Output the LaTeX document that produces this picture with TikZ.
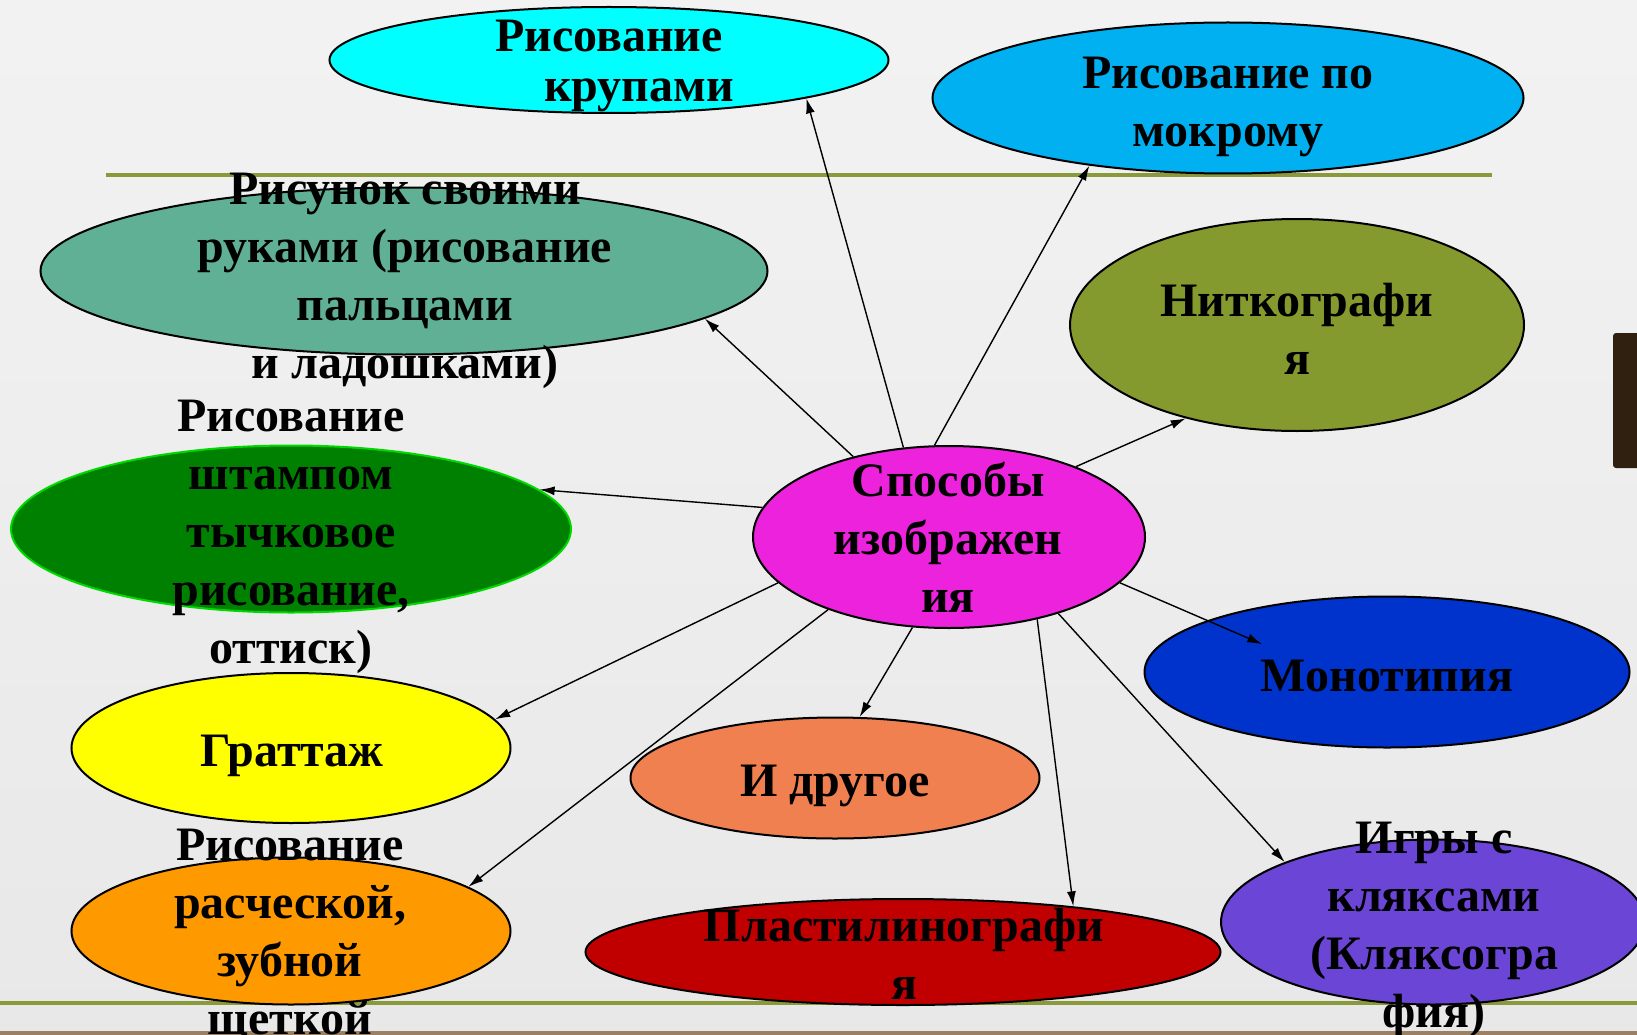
\documentclass[tikz,border=0pt]{standalone}
\usepackage{fontspec}
\setmainfont{Liberation Serif}
\usepackage{tikz}
\usetikzlibrary{shapes.geometric,arrows.meta}
\definecolor{krup}{HTML}{00FFFF}
\definecolor{mokr}{HTML}{00B0F0}
\definecolor{ruki}{HTML}{60B096}
\definecolor{nitk}{HTML}{859A2E}
\definecolor{stamp}{HTML}{008000}
\definecolor{sposob}{HTML}{EC22DC}
\definecolor{gratt}{HTML}{FFFF00}
\definecolor{mono}{HTML}{0033CC}
\definecolor{drug}{HTML}{F08050}
\definecolor{rasch}{HTML}{FF9900}
\definecolor{plast}{HTML}{C00000}
\definecolor{klyaks}{HTML}{6B46D6}
\definecolor{rule}{HTML}{8A9A3A}

\begin{document}
\begin{tikzpicture}[x=1pt, y=-1pt,
blob/.style={ellipse, draw=black, line width=2pt, inner sep=0pt},
txt/.style={align=center, inner sep=0pt, font=\bfseries\fontsize{48}{58}\selectfont},
arr/.style={-{Latex[length=15pt,width=9pt]}, line width=1.4pt}]
\useasboundingbox (0,0) rectangle (1637,1035);
\shade[top color=black!5, bottom color=black!9] (0,0) rectangle (1637,1035);
\fill[brown!45!gray] (0,1031) rectangle (1637,1035);
\draw[rule, line width=4pt] (106,175) -- (1492,175);
\draw[rule, line width=4pt] (0,1003) -- (1637,1003);
\fill[brown!25!black, rounded corners=3pt] (1613,333) rectangle (1641,468);

\node[blob, fill=krup, minimum width=559pt, minimum height=106pt] (kr) at (609,60) {};
\node[blob, fill=mokr, minimum width=591pt, minimum height=151pt] (mk) at (1228,98) {};
\node[blob, fill=ruki, minimum width=727pt, minimum height=167pt] (rs) at (404,271) {};
\node[blob, fill=nitk, minimum width=454pt, minimum height=212pt] (nk) at (1297,325) {};
\node[blob, draw=green!85!black, fill=stamp, minimum width=560pt, minimum height=167pt] (st) at (291,529) {};
\node[blob, fill=sposob, minimum width=392pt, minimum height=182pt] (c) at (949,537) {};
\node[blob, fill=gratt, minimum width=439pt, minimum height=150pt] (gr) at (291,748) {};
\node[blob, fill=mono, minimum width=485pt, minimum height=151pt] (mo) at (1387,672) {};
\node[blob, fill=drug, minimum width=409pt, minimum height=121pt] (dr) at (835,778) {};
\node[blob, fill=rasch, minimum width=439pt, minimum height=147pt] (ra) at (291,931) {};
\node[blob, fill=plast, minimum width=635pt, minimum height=106pt] (pl) at (903,952) {};
\node[blob, fill=klyaks, minimum width=424pt, minimum height=165pt] (ig) at (1433,922) {};

\draw[arr] (c.117) -- (kr.-11.5);
\draw[arr] (c.99) -- (mk.-154);
\draw[arr] (c.140) -- (rs.-9);
\draw[arr] (c.29) -- (nk.-140);
\draw[arr] (c.171) -- (st.9);
\draw[arr] (c.-165) -- (gr.8);
\draw[arr] (c.-149) -- (ra.14);
\draw[arr] (c.-112) -- (dr.68);
\draw[arr] (c.-43) -- (pl.15);
\draw[arr, shorten >=-60pt] (c.-15) -- (mo.164);
\draw[arr] (c.-35) -- (ig.158);

\node[txt, font=\bfseries\fontsize{48}{50}\selectfont] (krt) at (609,66) {Рисование\\\hspace*{60pt}крупами};
\node[txt] (mkt) at (1228,107) {Рисование по\\мокрому};
\node[txt] (rst) at (405,281) {Рисунок своими\\руками (рисование\\пальцами\\и ладошками)};
\node[txt] (nkt) at (1297,329) {Ниткографи\\я};
\node[txt] (stt) at (291,537) {Рисование\\штампом\\тычковое\\рисование,\\оттиск)};
\node[txt] (ct) at (948,537) {Способы\\изображен\\ия};
\node[txt] (grt) at (292,756) {Граттаж};
\node[txt] (mot) at (1387,676) {Монотипия};
\node[txt] (drt) at (835,786) {И другое};
\node[txt] (rat) at (290,936) {Рисование\\расческой,\\зубной\\щеткой};
\node[txt] (plt) at (904,954) {Пластилинографи\\я};
\node[txt] (igt) at (1434,930) {Игры с\\кляксами\\(Кляксогра\\фия)};
\end{tikzpicture}
\end{document}
